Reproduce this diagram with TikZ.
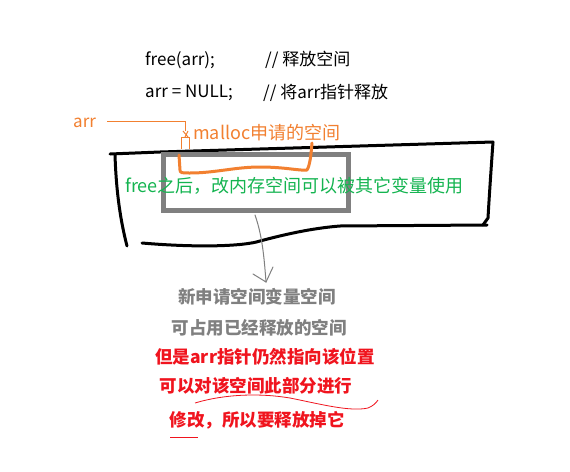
\documentclass[tikz,border=0pt]{standalone}
\usepackage{fontspec}
\setmainfont{Noto Sans CJK SC}
\definecolor{orng}{RGB}{242,128,48}
\definecolor{grn}{RGB}{20,180,80}
\definecolor{gry}{RGB}{128,128,128}
\definecolor{rd}{RGB}{240,20,30}
\tikzset{
  txt/.style={inner sep=0pt, anchor=west, font=\fontsize{17}{20}\selectfont},
  ltxt/.style={inner sep=0pt, anchor=west, font=\fontsize{18}{21}\selectfont},
  btxt/.style={inner sep=0pt, anchor=center, font=\fontsize{17.5}{20}\selectfont\bfseries},
  thick black/.style={line width=3pt, line cap=round, line join=round, black},
  thin orange/.style={line width=1pt, orng},
  thick orange/.style={line width=3pt, orng, line cap=round, line join=round},
  grayline/.style={line width=1pt, gry, line cap=round},
}
\begin{document}
\begin{tikzpicture}[x=1pt,y=-1pt]
\useasboundingbox (0,0) rectangle (570,471);
\fill[white] (0,0) rectangle (570,471);

% code lines
\node[txt] (c1) at (145,60) {free(arr);};
\node[txt] (c1c) at (265,60) {// 释放空间};
\node[txt] (c2) at (145,93) {arr = NULL;};
\node[txt] (c2c) at (263,93) {// 将arr指针释放};

% memory block outline (hand drawn)
\draw[thick black] (115,155) .. controls (116,185) and (119,215) .. (127,246);
\draw[thick black] (110,154) -- (160,152) -- (493,142);
\draw[thick black] (493,142) .. controls (491,170) and (489,200) .. (488,218) -- (483,225);
\draw[thick black] (487,225) -- (340,226) .. controls (315,228) and (290,233) .. (260,241)
   .. controls (245,246) and (200,248) .. (142,243);

% gray box
\draw[gry, line width=5pt] (163,154) rectangle (348,210);

% orange bracket
\draw[thick orange] (179,155) -- (180,170) .. controls (180,173) and (182,173) .. (190,173)
  .. controls (215,173) and (235,167) .. (260,167) .. controls (285,167) and (300,171) .. (307,170)
  .. controls (310,165) and (311,155) .. (312,143);

% arr pointer
\node[txt, orng] (arr) at (73,123) {arr};
\coordinate (p0) at (107,121);
\coordinate (p1) at (185,121);
\coordinate (p2) at (185,131);
\draw[thin orange] (p0) -- (p1) -- (p2);
\draw[thin orange] (183,131) -- (188,137) (188,131) -- (185,137);
\draw[thin orange] (181,149) -- (181,137) -- (189,137) -- (189,149);
\node[ltxt, orng] (mal) at (193,133) {malloc申请的空间};

% green text
\node[ltxt, grn] (g) at (125,186) {free之后，改内存空间可以被其它变量使用};

% gray arrow
\coordinate (a0) at (255,215);
\coordinate (a1) at (266,282);
\coordinate (al) at (253,274);
\coordinate (ar) at (273,267);
\draw[grayline] (a0) .. controls (262,235) and (264,255) .. (a1);
\draw[grayline] (al) -- (a1) -- (ar);

% gray bold text
\node[btxt, gry] (t1) at (257,297) {新申请空间变量空间};
\node[btxt, gry] (t2) at (259,328) {可占用已经释放的空间};

% red bold text
\node[btxt, rd] (r1) at (265,357) {但是arr指针仍然指向该位置};
\node[btxt, rd] (r2) at (256,386) {可以对该空间此部分进行};
\node[btxt, rd] (r3) at (257,420) {修改，所以要释放掉它};

% red hand strokes
\draw[rd, line width=0.8pt] (195,403) .. controls (225,394) and (260,393) .. (290,398)
  .. controls (320,404) and (350,412) .. (368,408) .. controls (373,406) and (376,403) .. (378,400);
\draw[rd, line width=1pt] (170,437) -- (198,437);
\end{tikzpicture}
\end{document}
